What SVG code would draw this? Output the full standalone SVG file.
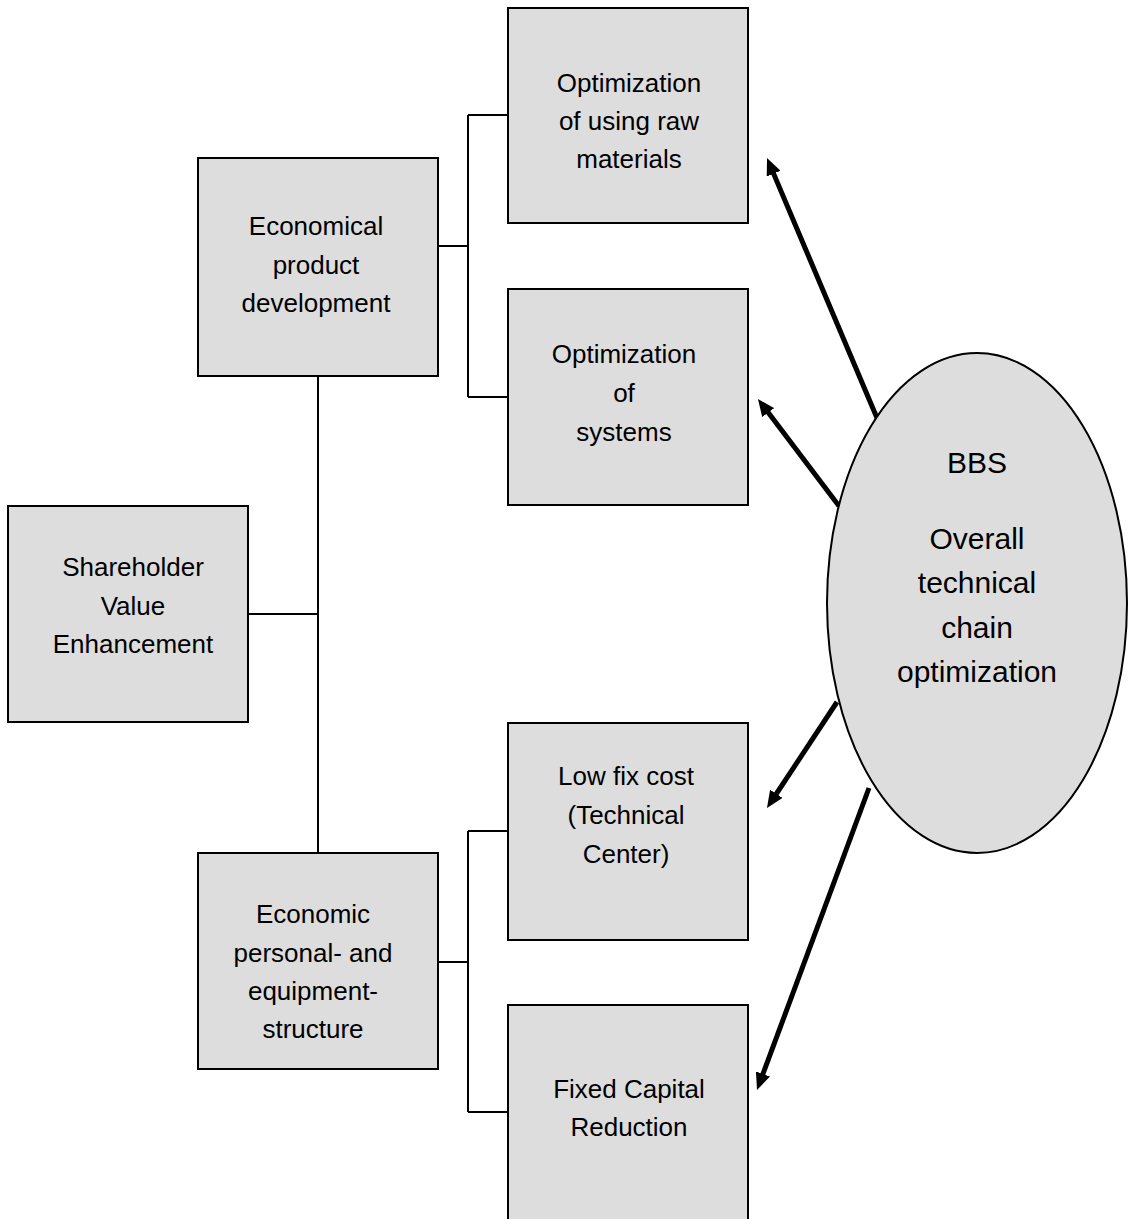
<svg xmlns="http://www.w3.org/2000/svg" width="1131" height="1219" viewBox="0 0 1131 1219">
<style>
  .box { fill: #dddddd; stroke: #000; stroke-width: 2; }
  .conn { fill: none; stroke: #000; stroke-width: 2; }
  .arrow { fill: none; stroke: #000; stroke-width: 5; }
  .t { font-family: "Liberation Sans", Arial, sans-serif; font-size: 26px; fill: #000; text-anchor: middle; }
  .e { font-family: "Liberation Sans", Arial, sans-serif; font-size: 30px; fill: #000; text-anchor: middle; }
</style>
<defs>
  <marker id="ah" markerUnits="userSpaceOnUse" markerWidth="17" markerHeight="15" viewBox="0 0 17 15" refX="5" refY="7.5" orient="auto">
    <path d="M0,0 L17,7.5 L0,15 z" fill="#000"/>
  </marker>
</defs>
<rect width="1131" height="1219" fill="#fff"/>
<g id="connectors">
  <path class="conn" d="M438,246 H468 M468,115 V397 M468,115 H508 M468,397 H508"/>
  <path class="conn" d="M318,376 V853 M248,614 H318"/>
  <path class="conn" d="M438,962 H468 M468,831 V1112 M468,831 H508 M468,1112 H508"/>
  <line class="arrow" x1="877" y1="418" x2="771.7" y2="169.1" marker-end="url(#ah)"/>
  <line class="arrow" x1="839" y1="506" x2="765.2" y2="408.6" marker-end="url(#ah)"/>
  <line class="arrow" x1="837" y1="702" x2="773.6" y2="798" marker-end="url(#ah)"/>
  <line class="arrow" x1="869" y1="788" x2="761.2" y2="1078.7" marker-end="url(#ah)"/>
</g>
<g id="raw-materials">
  <rect class="box" x="508" y="8" width="240" height="215"/>
  <text class="t" x="629" y="92">Optimization</text>
  <text class="t" x="629" y="130">of using raw</text>
  <text class="t" x="629" y="168">materials</text>
</g>
<g id="systems">
  <rect class="box" x="508" y="289" width="240" height="216"/>
  <text class="t" x="624" y="363">Optimization</text>
  <text class="t" x="624" y="402">of</text>
  <text class="t" x="624" y="441">systems</text>
</g>
<g id="product-development">
  <rect class="box" x="198" y="158" width="240" height="218"/>
  <text class="t" x="316" y="235">Economical</text>
  <text class="t" x="316" y="274">product</text>
  <text class="t" x="316" y="312">development</text>
</g>
<g id="shareholder">
  <rect class="box" x="8" y="506" width="240" height="216"/>
  <text class="t" x="133" y="576">Shareholder</text>
  <text class="t" x="133" y="615">Value</text>
  <text class="t" x="133" y="653">Enhancement</text>
</g>
<g id="low-fix-cost">
  <rect class="box" x="508" y="723" width="240" height="217"/>
  <text class="t" x="626" y="785">Low fix cost</text>
  <text class="t" x="626" y="824">(Technical</text>
  <text class="t" x="626" y="863">Center)</text>
</g>
<g id="personal-equipment">
  <rect class="box" x="198" y="853" width="240" height="216"/>
  <text class="t" x="313" y="923">Economic</text>
  <text class="t" x="313" y="962">personal- and</text>
  <text class="t" x="313" y="1000">equipment-</text>
  <text class="t" x="313" y="1038">structure</text>
</g>
<g id="fixed-capital">
  <rect class="box" x="508" y="1005" width="240" height="230"/>
  <text class="t" x="629" y="1098">Fixed Capital</text>
  <text class="t" x="629" y="1136">Reduction</text>
</g>
<g id="bbs">
  <ellipse cx="977" cy="603" rx="150" ry="250" fill="#dddddd" stroke="#000" stroke-width="2"/>
  <text class="e" x="977" y="473">BBS</text>
  <text class="e" x="977" y="549">Overall</text>
  <text class="e" x="977" y="593">technical</text>
  <text class="e" x="977" y="638">chain</text>
  <text class="e" x="977" y="682">optimization</text>
</g>
</svg>
